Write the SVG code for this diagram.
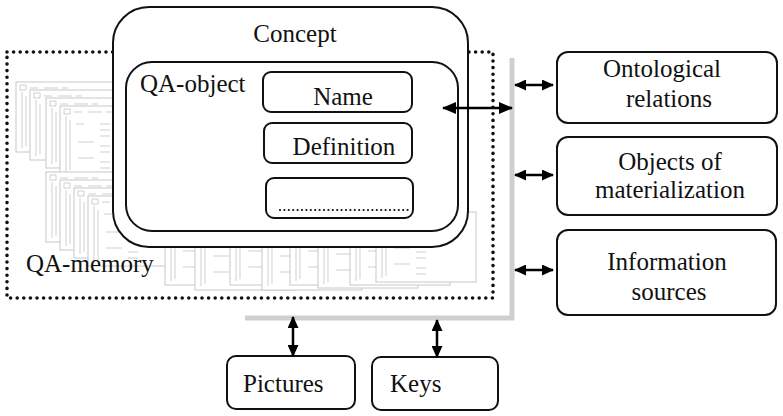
<svg xmlns="http://www.w3.org/2000/svg" xmlns:xlink="http://www.w3.org/1999/xlink" width="783" height="416" viewBox="0 0 783 416">
<style>
.box{fill:#fff;stroke:#111;stroke-width:2}
text{font-family:'Liberation Serif','Times New Roman','DejaVu Serif',serif;font-size:25px;fill:#111}
.c{text-anchor:middle}
.conn{stroke:#000;stroke-width:2.5;fill:none}
.bg{stroke:#cfcfcf;stroke-width:1;fill:none}
</style>
<defs>
<marker id="ah" viewBox="0 0 14 12" refX="13" refY="6" markerWidth="14" markerHeight="12" markerUnits="userSpaceOnUse" orient="auto-start-reverse">
<path d="M0 0L14 6L0 12z" fill="#000"/>
</marker>
<marker id="ahs" viewBox="0 0 12 11" refX="11" refY="5.5" markerWidth="12" markerHeight="11" markerUnits="userSpaceOnUse" orient="auto-start-reverse">
<path d="M0 0L12 5.5L0 11z" fill="#000"/>
</marker>
<symbol id="win" overflow="visible">
<rect x="0" y="0" width="100" height="70" fill="#fff" stroke="#c8c8c8"/>
<path class="bg" d="M4 3h6v5h-6z M14 6h8 M28 6h14 M46 6h6 M6 10v56 M10 14v50 M16 18h8 M40 18h10 M40 24h10 M40 30h10 M18 36h16 M40 40h10 M40 46h10 M18 52h16 M40 56h10 M40 62h10"/>
</symbol>
</defs>

<g id="qa-memory">
<g id="background-windows">
<use xlink:href="#win" x="16" y="82"/>
<use xlink:href="#win" x="30" y="90"/>
<use xlink:href="#win" x="46" y="98"/>
<use xlink:href="#win" x="60" y="106"/>
<use xlink:href="#win" x="46" y="172"/>
<use xlink:href="#win" x="60" y="180"/>
<use xlink:href="#win" x="74" y="188"/>
<use xlink:href="#win" x="88" y="196"/>
<use xlink:href="#win" x="165" y="215"/>
<use xlink:href="#win" x="195" y="220"/>
<use xlink:href="#win" x="230" y="215"/>
<use xlink:href="#win" x="262" y="220"/>
<use xlink:href="#win" x="290" y="215"/>
<use xlink:href="#win" x="318" y="218"/>
<use xlink:href="#win" x="350" y="215"/>
<use xlink:href="#win" x="376" y="212"/>
</g>
<rect x="7" y="52" width="486" height="246" fill="none" stroke="#111" stroke-width="3.6" stroke-linecap="round" stroke-dasharray="0 6.6"/>
<text x="26" y="272">QA-memory</text>
</g>

<g id="shadow">
<polyline points="512,58 512,318 245,318" fill="none" stroke="#cfcfcf" stroke-width="5"/>
</g>

<g id="concept">
<rect class="box" x="113" y="7" width="355" height="240" rx="36"/>
<text class="c" x="295" y="42">Concept</text>
</g>

<g id="qa-object">
<rect class="box" x="126" y="62" width="332" height="169" rx="26"/>
<text x="140" y="92">QA-object</text>
</g>

<g id="name">
<rect class="box" x="263" y="72" width="149" height="40" rx="8"/>
<text class="c" x="343" y="105">Name</text>
</g>

<g id="definition">
<rect class="box" x="264" y="123" width="148" height="40" rx="8"/>
<text class="c" x="344" y="155">Definition</text>
</g>

<g id="other-field">
<rect class="box" x="266" y="178" width="147" height="40" rx="8"/>
<line x1="280" y1="210" x2="411" y2="210" stroke="#111" stroke-width="2.2" stroke-linecap="round" stroke-dasharray="0 4.4"/>
</g>

<g id="ontological">
<rect class="box" x="557" y="52" width="220" height="71" rx="11"/>
<text class="c" x="662" y="77">Ontological</text>
<text class="c" x="669" y="107">relations</text>
</g>

<g id="materialization">
<rect class="box" x="557" y="137" width="220" height="78" rx="11"/>
<text class="c" x="670" y="170">Objects of</text>
<text class="c" x="670" y="198">materialization</text>
</g>

<g id="sources">
<rect class="box" x="557" y="230" width="219" height="85" rx="11"/>
<text class="c" x="667" y="270">Information</text>
<text class="c" x="669" y="300">sources</text>
</g>

<g id="pictures">
<rect class="box" x="227" y="356" width="128" height="53" rx="9"/>
<text x="243" y="392">Pictures</text>
</g>

<g id="keys">
<rect class="box" x="372" y="357" width="126" height="53" rx="9"/>
<text x="390" y="392">Keys</text>
</g>

<g id="connectors">
<line class="conn" x1="443" y1="108" x2="512" y2="108" marker-start="url(#ah)" marker-end="url(#ah)"/>
<line class="conn" x1="515" y1="85" x2="553" y2="85" marker-start="url(#ahs)" marker-end="url(#ahs)"/>
<line class="conn" x1="515" y1="175" x2="553" y2="175" marker-start="url(#ahs)" marker-end="url(#ahs)"/>
<line class="conn" x1="515" y1="270" x2="553" y2="270" marker-start="url(#ahs)" marker-end="url(#ahs)"/>
<line class="conn" x1="293" y1="317" x2="293" y2="356" marker-start="url(#ahs)" marker-end="url(#ahs)"/>
<line class="conn" x1="437" y1="320" x2="437" y2="357" marker-start="url(#ahs)" marker-end="url(#ahs)"/>
</g>
</svg>
